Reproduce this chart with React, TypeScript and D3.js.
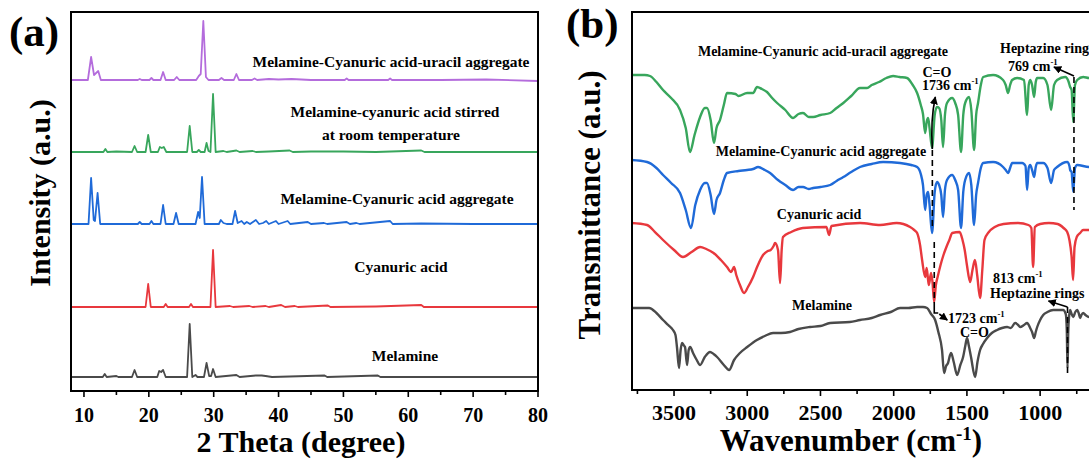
import React from "react";
import * as d3 from "d3";

type Pt = [number, number];

// ---------- (a) XRD patterns: [2theta, intensity above own baseline] ----------
const xrdNames = [
  "Melamine",
  "Cyanuric acid",
  "Melamine-Cyanuric acid aggregate",
  "Melamine-cyanuric acid stirred",
  "Melamine-Cyanuric acid-uracil aggregate",
];
const xrdOffsets = [14, 84, 167, 239, 311];

const xrdMelamine: Pt[] = [
  [8, 0], [12.9, 0], [13.2, 3], [13.5, 0], [15, 1], [15.3, 0], [17.4, 0], [17.8, 7], [18.2, 0],
  [21.3, 0], [21.6, 6], [21.9, 5], [22.2, 7], [22.6, 0], [25.9, 0], [26.3, 53], [26.7, 0],
  [27.2, 2], [27.5, 0], [28.5, 0], [28.9, 14], [29.3, 1], [29.6, 1], [29.9, 8], [30.3, 0],
  [33.5, 2], [34, 0], [36.5, 1.5], [37.4, 1.5], [38, 1], [39, 0], [47.1, 1.5], [47.5, 0],
  [55.3, 1.5], [55.7, 0], [80, 0],
];
const xrdCyanuric: Pt[] = [
  [8, 0], [19.5, 0], [19.9, 23], [20.3, 0], [22.3, 0], [22.6, 3], [22.9, 0], [26.2, 0], [26.5, 3],
  [26.8, 0], [29.5, 0], [29.9, 57], [30.3, 0], [32.5, 1], [33, 0], [35.5, 1], [36, 0], [38, 1],
  [38.5, 0], [40.4, 2], [41, 0], [42.5, 1], [43, 0], [47.6, 1.5], [48, 0], [55, 0.5], [62, 2],
  [62.4, 0], [80, 0],
];
const xrdAggregate: Pt[] = [
  [8, 0], [10.7, 0], [11.1, 46], [11.5, 4], [11.7, 3], [12.1, 31], [12.5, 0], [18.3, 0], [18.6, 2],
  [18.9, 0], [20.1, 0], [20.4, 3], [20.7, 0], [21.8, 0], [22.2, 19], [22.6, 0], [23.8, 0],
  [24.2, 11], [24.6, 0], [27.2, 0], [27.6, 12], [27.85, 6], [28.2, 47], [28.6, 0], [30.8, 0],
  [31.1, 4], [31.5, 1], [32, 0], [32.9, 0], [33.3, 13], [33.7, 1], [34.3, 3], [34.7, 0],
  [35.1, 2], [35.6, 0], [36.5, 4], [37, 0], [37.6, 1], [38.1, 3], [38.5, 0], [39.6, 3], [40, 0],
  [41.4, 3], [41.8, 0], [44.5, 2], [45, 0], [47, 1], [47.5, 0], [50.5, 2], [51, 0], [52, 1],
  [52.5, 0], [57.2, 3], [57.6, 0], [62, 0.5], [70, 0], [80, 0],
];
const xrdStirred: Pt[] = [
  [8, 0], [13, 0], [13.3, 3], [13.6, 0], [15, 0.5], [17.4, 0], [17.8, 6], [18.2, 0], [19.5, 0],
  [19.9, 17], [20.3, 0], [21.4, 0], [21.7, 5], [22.0, 4], [22.3, 5], [22.7, 0], [25.9, 0],
  [26.3, 26], [26.7, 0], [27.4, 0], [27.7, 2], [28.0, 0], [28.6, 0], [28.9, 9], [29.2, 1],
  [29.5, 0], [29.9, 58], [30.3, 0], [31.5, 1], [32, 0], [33.5, 1.5], [34, 0], [36, 1], [36.5, 0],
  [38.5, 0.5], [41.7, 1.5], [42.2, 0], [45, 0.5], [50, 0.5], [55, 0], [62, 1.5], [62.5, 0], [80, 0],
];
const xrdUracil: Pt[] = [
  [8, 0], [10.6, 0], [11.1, 23], [11.55, 5], [12.2, 9], [12.6, 0], [18.3, 0], [18.6, 1], [18.9, 0],
  [20.1, 0], [20.4, 2], [20.7, 0], [21.8, 0], [22.2, 8], [22.6, 0], [23.9, 0], [24.3, 3],
  [24.7, 0], [27.3, 0], [27.7, 4], [28.0, 6], [28.4, 59], [28.8, 3], [29.2, 0], [30.8, 0],
  [31.2, 2], [31.6, 0], [33.1, 0], [33.5, 6], [33.9, 0], [35.9, 0], [36.3, 1.5], [36.7, 0],
  [38.5, 1], [40, 0.5], [42, 1], [45, 0], [50.2, 0], [50.5, 1.5], [50.8, 0], [56.9, 0],
  [57.2, 1.5], [57.5, 0], [65, 0], [72, 0.5], [80, -1],
];
const xrdSeries = [xrdMelamine, xrdCyanuric, xrdAggregate, xrdStirred, xrdUracil];
const xrdTicks = [10, 20, 30, 40, 50, 60, 70, 80];
const xrdMinorTicks = [15, 25, 35, 45, 55, 65, 75];

// ---------- (b) FTIR spectra: [wavenumber, transmittance (a.u., stacked)] ----------
const ftirNames = [
  "Melamine",
  "Cyanuric acid",
  "Melamine-Cyanuric acid aggregate",
  "Melamine-Cyanuric acid-uracil aggregate",
];
const ftirMelamine: Pt[] = [
  [3790, 82], [3670, 82], [3620, 77], [3575, 70], [3540, 65], [3507, 60], [3490, 55], [3480, 43],
  [3466, 22], [3455, 40], [3445, 47], [3435, 45], [3425, 43], [3411, 25], [3400, 40], [3390, 43],
  [3370, 37], [3345, 30], [3322, 25], [3290, 33], [3254, 38], [3230, 36], [3206, 33], [3160, 25],
  [3124, 20], [3090, 30], [3050, 37], [3000, 43], [2934, 50], [2880, 54], [2824, 57], [2770, 57],
  [2708, 58], [2650, 61], [2571, 63], [2500, 64], [2434, 67], [2300, 68], [2230, 70], [2150, 72],
  [2093, 75], [2020, 78], [1956, 82], [1900, 82], [1840, 83], [1800, 83], [1772, 82], [1745, 76],
  [1717, 70], [1695, 58], [1670, 40], [1656, 17], [1642, 24], [1629, 27], [1615, 35], [1608, 37],
  [1590, 28], [1567, 15], [1545, 25], [1526, 33], [1510, 45], [1499, 52], [1488, 45], [1472, 33],
  [1444, 13], [1428, 28], [1410, 40], [1390, 46], [1362, 52], [1330, 57], [1294, 60], [1260, 62],
  [1226, 63], [1200, 62], [1171, 67], [1150, 65], [1137, 63], [1110, 65], [1089, 67], [1068, 62],
  [1055, 58], [1041, 52], [1030, 58], [1020, 63], [1000, 70], [979, 75], [950, 78], [911, 80],
  [870, 80], [843, 80], [825, 76], [818, 60], [813, 22], [808, 58], [802, 74], [795, 80],
  [785, 76], [774, 73], [760, 78], [747, 80], [735, 76], [727, 72], [718, 75], [706, 77],
  [690, 75], [665, 73], [640, 74],
];
const ftirCyanuric: Pt[] = [
  [3790, 167], [3684, 165], [3630, 158], [3575, 150], [3500, 140], [3439, 133], [3380, 138],
  [3322, 143], [3280, 141], [3230, 137], [3180, 130], [3138, 123], [3110, 118], [3090, 123],
  [3075, 115], [3050, 105], [3022, 97], [2995, 103], [2960, 113], [2930, 124], [2892, 135],
  [2860, 139], [2840, 140], [2820, 144], [2810, 147], [2790, 140], [2776, 107], [2765, 140],
  [2756, 153], [2700, 158], [2620, 162], [2460, 163], [2441, 155], [2425, 164], [2230, 167],
  [2093, 165], [1980, 167], [1888, 163], [1860, 160], [1840, 157], [1820, 145], [1806, 130],
  [1785, 113], [1775, 122], [1765, 110], [1760, 105], [1745, 117], [1735, 108], [1724, 88],
  [1712, 105], [1700, 113], [1680, 125], [1660, 135], [1640, 143], [1620, 150], [1600, 157],
  [1550, 158], [1530, 150], [1515, 140], [1500, 125], [1478, 108], [1462, 120], [1445, 130],
  [1430, 115], [1410, 92], [1395, 120], [1380, 150], [1350, 158], [1310, 163], [1250, 166],
  [1150, 167], [1080, 165], [1060, 162], [1048, 123], [1036, 163], [1000, 166], [940, 167],
  [880, 166], [840, 162], [815, 158], [800, 150], [785, 133], [775, 110], [765, 143], [750, 153],
  [727, 157], [706, 160], [690, 160], [640, 160],
];
const ftirAggregate: Pt[] = [
  [3790, 230], [3684, 228], [3620, 222], [3575, 215], [3520, 207], [3459, 197], [3420, 180],
  [3384, 162], [3355, 185], [3322, 200], [3290, 207], [3275, 207], [3250, 195], [3227, 176],
  [3210, 190], [3186, 197], [3160, 210], [3138, 217], [3060, 219], [3001, 220], [2960, 221],
  [2926, 223], [2880, 220], [2844, 217], [2790, 210], [2740, 205], [2687, 200], [2650, 203],
  [2619, 203], [2580, 201], [2550, 202], [2500, 203], [2434, 205], [2390, 209], [2344, 213],
  [2290, 218], [2230, 223], [2150, 226], [2072, 228], [1956, 227], [1880, 225], [1840, 223],
  [1815, 216], [1800, 205], [1785, 180], [1775, 195], [1765, 198], [1755, 185], [1738, 157],
  [1720, 198], [1704, 208], [1690, 205], [1675, 195], [1663, 173], [1650, 200], [1636, 210],
  [1601, 215], [1580, 210], [1560, 200], [1540, 162], [1525, 198], [1512, 210], [1485, 217],
  [1470, 205], [1451, 165], [1437, 195], [1424, 207], [1405, 222], [1389, 227], [1321, 228],
  [1253, 223], [1235, 220], [1219, 217], [1205, 222], [1191, 227], [1123, 227], [1100, 224],
  [1089, 200], [1078, 222], [1068, 225], [1055, 220], [1041, 213], [1030, 223], [1020, 227],
  [979, 227], [950, 222], [925, 207], [905, 220], [884, 223], [815, 228], [800, 224], [795, 220],
  [785, 218], [774, 198], [762, 222], [747, 225], [665, 223], [640, 223],
];
const ftirUracil: Pt[] = [
  [3790, 315], [3700, 315], [3664, 314], [3620, 308], [3575, 300], [3520, 292], [3459, 280],
  [3420, 262], [3391, 238], [3360, 255], [3322, 273], [3290, 282], [3275, 282], [3250, 270],
  [3227, 247], [3210, 262], [3186, 270], [3160, 285], [3138, 297], [3080, 296], [3060, 294],
  [3001, 297], [2960, 297], [2933, 303], [2900, 301], [2865, 298], [2830, 292], [2796, 287],
  [2740, 280], [2687, 272], [2650, 276], [2619, 277], [2580, 273], [2550, 273], [2500, 275],
  [2434, 277], [2390, 282], [2344, 287], [2290, 294], [2230, 302], [2182, 302], [2150, 305],
  [2100, 308], [2050, 312], [2004, 314], [1960, 313], [1909, 312], [1870, 305], [1840, 297],
  [1815, 285], [1800, 276], [1785, 257], [1775, 268], [1765, 272], [1755, 262], [1738, 242],
  [1720, 275], [1704, 283], [1690, 282], [1675, 270], [1663, 243], [1650, 275], [1636, 287],
  [1601, 292], [1580, 287], [1560, 275], [1540, 238], [1525, 275], [1512, 287], [1485, 293],
  [1470, 280], [1451, 240], [1437, 275], [1424, 287], [1405, 305], [1389, 313], [1321, 315],
  [1253, 310], [1235, 305], [1219, 297], [1205, 305], [1191, 310], [1157, 312], [1110, 310],
  [1089, 275], [1078, 305], [1068, 310], [1055, 305], [1041, 293], [1030, 308], [1020, 312],
  [979, 312], [950, 305], [925, 280], [905, 305], [884, 310], [829, 313], [805, 308], [795, 303],
  [785, 300], [774, 268], [762, 305], [747, 310], [706, 313], [665, 312], [640, 312],
];
const ftirSeries = [ftirMelamine, ftirCyanuric, ftirAggregate, ftirUracil];
const ftirTicks = [3500, 3000, 2500, 2000, 1500, 1000];
const ftirMinorTicks = [3750, 3250, 2750, 2250, 1750, 1250, 750];

const colors = ["#4a4a4a", "#e8383d", "#1f6ad8", "#38a65c", "#b46cdc"];
const FONT = "'Liberation Serif', 'Times New Roman', Times, serif";

const Sup = ({ children }: { children: React.ReactNode }) => (
  <tspan dy={-6} fontSize="0.62em">{children}</tspan>
);

export default function App() {
  // panel (a)
  const xA = d3.scaleLinear().domain([8, 80]).range([71, 538]);
  const yA = d3.scaleLinear().domain([0, 379]).range([391, 12]);
  // panel (b) (right end is cut by the picture edge)
  const xB = d3.scaleLinear().domain([3787, 400]).range([632, 1128]);
  const yB = d3.scaleLinear().domain([0, 378]).range([390, 12]);

  const lineA = (off: number) =>
    d3.line<Pt>().x((d) => xA(d[0])).y((d) => yA(d[1] + off));
  const lineB = d3
    .line<Pt>()
    .x((d) => xB(d[0]))
    .y((d) => yB(d[1]))
    .curve(d3.curveMonotoneX);

  const bold = { fontFamily: FONT, fontWeight: 700 as const };

  return (
    <svg
      width={1089}
      height={461}
      style={{ position: "absolute", left: 0, top: 0, background: "#fff" }}
    >
      <defs>
        <marker id="arr" viewBox="0 0 10 10" refX="9" refY="5" markerWidth="5" markerHeight="5" orient="auto">
          <path d="M0,0 L10,5 L0,10 z" fill="#000" />
        </marker>
      </defs>

      {/* ================= (a) ================= */}
      <text x={9} y={46} fontSize={43} {...bold}>(a)</text>

      {xrdSeries.map((s, i) => (
        <path
          key={xrdNames[i]}
          d={lineA(xrdOffsets[i])(s) || ""}
          fill="none"
          stroke={colors[i]}
          strokeWidth={1.8}
          strokeLinejoin="round"
        />
      ))}

      <rect x={71} y={12} width={467} height={379} fill="none" stroke="#000" strokeWidth={2} />
      {xrdTicks.map((t) => (
        <g key={t}>
          <line x1={xA(t)} x2={xA(t)} y1={391} y2={397} stroke="#000" strokeWidth={1.6} />
          <text x={xA(t)} y={422} fontSize={20} textAnchor="middle" {...bold}>{t}</text>
        </g>
      ))}
      {xrdMinorTicks.map((t) => (
        <line key={t} x1={xA(t)} x2={xA(t)} y1={391} y2={395} stroke="#000" strokeWidth={1.6} />
      ))}

      <g fontSize={15.5} textAnchor="middle" {...bold}>
        <text x={391} y={67}>{xrdNames[4]}</text>
        <text x={395} y={117}>{xrdNames[3]}</text>
        <text x={391} y={140}>at room temperature</text>
        <text x={397} y={204}>{xrdNames[2]}</text>
        <text x={401} y={272}>{xrdNames[1]}</text>
        <text x={405} y={361}>{xrdNames[0]}</text>
      </g>

      <text x={301} y={452} fontSize={30} textAnchor="middle" {...bold}>2 Theta (degree)</text>
      <text transform="translate(50,193) rotate(-90)" fontSize={30} textAnchor="middle" {...bold}>
        Intensity (a.u.)
      </text>

      {/* ================= (b) ================= */}
      <text x={566} y={38} fontSize={43} {...bold}>(b)</text>

      {ftirSeries.map((s, i) => (
        <path
          key={ftirNames[i]}
          d={lineB(s) || ""}
          fill="none"
          stroke={colors[i]}
          strokeWidth={2.4}
          strokeLinejoin="round"
        />
      ))}

      <line x1={632} x2={1089} y1={12} y2={12} stroke="#000" strokeWidth={2} />
      <line x1={632} x2={1089} y1={390} y2={390} stroke="#000" strokeWidth={2} />
      <line x1={632} x2={632} y1={11} y2={391} stroke="#000" strokeWidth={2} />
      {ftirTicks.map((t) => (
        <g key={t}>
          <line x1={xB(t)} x2={xB(t)} y1={390} y2={396} stroke="#000" strokeWidth={1.6} />
          <text x={xB(t)} y={420} fontSize={22} textAnchor="middle" {...bold}>{t}</text>
        </g>
      ))}
      {ftirMinorTicks.map((t) => (
        <line key={t} x1={xB(t)} x2={xB(t)} y1={390} y2={394} stroke="#000" strokeWidth={1.6} />
      ))}

      <g fontSize={14} textAnchor="middle" {...bold}>
        <text x={823} y={56}>{ftirNames[3]}</text>
        <text x={821} y={156}>{ftirNames[2]}</text>
        <text x={819} y={219}>{ftirNames[1]}</text>
        <text x={822} y={310}>{ftirNames[0]}</text>
      </g>

      {/* annotations */}
      <g stroke="#000" strokeWidth={1.6} fill="none">
        <line x1={xB(1736)} x2={xB(1736)} y1={yB(240)} y2={yB(160)} strokeDasharray="6,4" />
        <line x1={xB(1723)} x2={xB(1723)} y1={yB(148)} y2={yB(82)} strokeDasharray="6,4" />
        <line x1={xB(769)} x2={xB(769)} y1={yB(313)} y2={yB(180)} strokeDasharray="6,4" />
        <line x1={xB(813)} x2={xB(813)} y1={yB(83)} y2={yB(15)} strokeDasharray="6,4" />
        <path d={`M${xB(1723)},${yB(82)} V${yB(77)} H${xB(1723) + 4}`} />
        <path d={`M${xB(1736)},${yB(241)} Q${xB(1736) - 2},${yB(270)} ${xB(1736) + 3},${yB(293)}`} markerEnd="url(#arr)" />
        <path d={`M${xB(769)},${yB(314)} L${xB(769) - 20},${yB(323)}`} markerEnd="url(#arr)" />
        <path d={`M${xB(813)},${yB(83)} L${xB(813) - 19},${yB(89)}`} markerEnd="url(#arr)" />
        <path d={`M${xB(1723) + 5},${yB(76)} L${xB(1723) + 13},${yB(70)}`} markerEnd="url(#arr)" />
      </g>
      <g fontSize={14} {...bold}>
        <text x={937} y={77} textAnchor="middle">C=O</text>
        <text x={922} y={90}>1736 cm<Sup>-1</Sup></text>
        <text x={1000} y={53}>Heptazine rings</text>
        <text x={1008} y={71}>769 cm<Sup>-1</Sup></text>
        <text x={993} y={283}>813 cm<Sup>-1</Sup></text>
        <text x={990} y={298}>Heptazine rings</text>
        <text x={948} y={323}>1723 cm<Sup>-1</Sup></text>
        <text x={960} y={337}>C=O</text>
      </g>

      <text x={851} y={451} fontSize={31} textAnchor="middle" {...bold}>
        Wavenumber (cm<tspan dy={-11} fontSize={19}>-1</tspan><tspan dy={11}>)</tspan>
      </text>
      <text transform="translate(600,205) rotate(-90)" fontSize={31} textAnchor="middle" {...bold}>
        Transmittance (a.u.)
      </text>
    </svg>
  );
}
